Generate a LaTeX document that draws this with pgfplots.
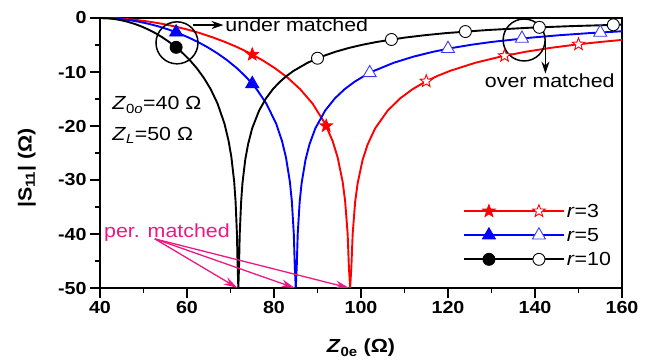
\documentclass[border=0pt]{standalone}
\usepackage{fontspec}
\setmainfont{Liberation Sans}[FakeStretch=1.13]
\usepackage{pgfplots}
\pgfplotsset{compat=1.18}
\usetikzlibrary{arrows.meta}
\definecolor{pm}{RGB}{235,25,130}
\definecolor{lblue}{RGB}{60,60,230}

\pgfdeclareplotmark{fstar}{%
  \pgfpathmoveto{\pgfpointpolar{90}{\pgfplotmarksize}}%
  \pgfpathlineto{\pgfpointpolar{126}{0.42\pgfplotmarksize}}%
  \pgfpathlineto{\pgfpointpolar{162}{\pgfplotmarksize}}%
  \pgfpathlineto{\pgfpointpolar{198}{0.42\pgfplotmarksize}}%
  \pgfpathlineto{\pgfpointpolar{234}{\pgfplotmarksize}}%
  \pgfpathlineto{\pgfpointpolar{270}{0.42\pgfplotmarksize}}%
  \pgfpathlineto{\pgfpointpolar{306}{\pgfplotmarksize}}%
  \pgfpathlineto{\pgfpointpolar{342}{0.42\pgfplotmarksize}}%
  \pgfpathlineto{\pgfpointpolar{18}{\pgfplotmarksize}}%
  \pgfpathlineto{\pgfpointpolar{54}{0.42\pgfplotmarksize}}%
  \pgfpathclose
  \pgfusepathqfillstroke
}

\begin{document}
\begin{tikzpicture}
\begin{axis}[
  scale only axis, width=522bp, height=270bp,
  xmin=40, xmax=160, ymin=-50, ymax=0,
  xtick={40,60,...,160}, ytick={-50,-40,...,0},
  minor x tick num=1, minor y tick num=1,
  xtick pos=left, ytick pos=left, tick align=outside,
  major tick length=10bp, minor tick length=5bp,
  axis line style={line width=1.6bp},
  every tick/.style={line width=1.6bp, black},
  /pgf/number format/assume math mode=true,
  tick label style={font=\fontsize{17.5}{20}\selectfont\bfseries},
  xlabel={\textbf{\textit{Z}\textsubscript{0e} (Ω)}},
  ylabel={\textbf{|S\textsubscript{11}| (Ω)}},
  label style={font=\fontsize{19}{22}\selectfont},
  x label style={at={(axis description cs:0.5,-0.222)}, anchor=center},
  y label style={at={(axis description cs:-0.14,0.445)}, anchor=center},
  legend style={at={(axis cs:123.4,-34.0)}, anchor=north west, draw=none, fill=none,
    inner sep=0pt, row sep=5.5bp, font=\fontsize{19}{21}\selectfont},
  legend cell align=left,
]
% ---- r = 3 (red)
\addplot[red, line width=1.9bp, legend image code/.code={
   \draw[red, line width=1.9bp] (0bp,0bp) -- (100bp,0bp);
   \draw[red, line width=0.9bp] plot[mark=fstar, mark size=6.5bp, mark options={fill=red}] coordinates {(25bp,0bp)};
   \draw[red, line width=0.9bp] plot[mark=fstar, mark size=6.5bp, mark options={fill=white}] coordinates {(75bp,0bp)};
 }] coordinates {
(40,0) (42.88,-0.04) (45.75,-0.17) (48.63,-0.39) (51.5,-0.70) (54.38,-1.09) (57.25,-1.57)
(60.13,-2.14) (63,-2.80) (65.88,-3.57) (68.75,-4.44) (71.63,-5.42) (74.5,-6.55) (77.38,-7.83)
(80.25,-9.31) (83.13,-11.06) (86,-13.17) (88.88,-15.86) (91.75,-19.58) (93.48,-22.80)
(94.63,-25.81) (95.78,-30.33) (96.35,-33.89) (96.93,-39.96) (97.21,-46.00) (97.5,-50)
(97.79,-46.04) (98.08,-40.04) (98.65,-34.07) (99.23,-30.59) (100.38,-26.24) (101.53,-23.41)
(103.25,-20.44) (106.13,-17.15) (109,-14.88) (111.88,-13.17) (114.75,-11.82) (117.63,-10.71)
(120.5,-9.78) (126.25,-8.30) (132,-7.17) (137.75,-6.27) (143.5,-5.54) (149.25,-4.94)
(155,-4.44) (160,-4.06)
};
\addlegendentry{\textit{r}=3}
% ---- r = 5 (blue)
\addplot[blue, line width=1.9bp, legend image code/.code={
   \draw[blue, line width=1.9bp] (0bp,0bp) -- (100bp,0bp);
   \draw[blue, line width=0.9bp] plot[mark=triangle*, mark size=7.5bp, mark options={fill=blue}] coordinates {(25bp,0bp)};
   \draw[lblue, line width=0.9bp] plot[mark=triangle*, mark size=7.5bp, mark options={fill=white}] coordinates {(75bp,0bp)};
 }] coordinates {
(40,0) (42.25,-0.04) (44.5,-0.17) (46.75,-0.39) (49,-0.70) (51.25,-1.09) (53.5,-1.57)
(55.75,-2.14) (58,-2.80) (60.25,-3.57) (62.5,-4.44) (64.75,-5.42) (67,-6.55) (69.25,-7.83)
(71.5,-9.31) (73.75,-11.06) (76,-13.17) (78.25,-15.86) (80.5,-19.58) (81.85,-22.80)
(82.75,-25.81) (83.65,-30.33) (84.1,-33.89) (84.55,-39.96) (84.78,-46.00) (85,-50)
(85.23,-46.04) (85.45,-40.04) (85.9,-34.07) (86.35,-30.59) (87.25,-26.24) (88.15,-23.41)
(89.5,-20.44) (91.75,-17.15) (94,-14.88) (96.25,-13.17) (98.5,-11.82) (100.75,-10.71)
(103,-9.78) (107.5,-8.30) (112,-7.17) (116.5,-6.27) (121,-5.54) (125.5,-4.94) (130,-4.44)
(139,-3.64) (145.75,-3.18) (152.5,-2.80) (160,-2.46)
};
\addlegendentry{\textit{r}=5}
% ---- r = 10 (black)
\addplot[black, line width=1.9bp, legend image code/.code={
   \draw[black, line width=1.9bp] (0bp,0bp) -- (100bp,0bp);
   \draw[black, line width=0.9bp] plot[mark=*, mark size=6bp, mark options={fill=black}] coordinates {(25bp,0bp)};
   \draw[black, line width=0.9bp] plot[mark=*, mark size=6bp, mark options={fill=white}] coordinates {(75bp,0bp)};
 }] coordinates {
(40,0) (41.59,-0.04) (43.18,-0.17) (44.77,-0.39) (46.36,-0.70) (47.95,-1.09) (49.54,-1.57)
(51.13,-2.14) (52.72,-2.80) (54.31,-3.57) (55.90,-4.44) (57.49,-5.42) (59.08,-6.55)
(60.67,-7.83) (62.26,-9.31) (63.85,-11.06) (65.44,-13.17) (67.03,-15.86) (68.62,-19.58)
(69.57,-22.80) (70.21,-25.81) (70.85,-30.33) (71.16,-33.89) (71.48,-39.96) (71.64,-46.00)
(71.80,-50) (71.96,-46.04) (72.12,-40.04) (72.44,-34.07) (72.75,-30.59) (73.39,-26.24)
(74.03,-23.41) (74.98,-20.44) (76.57,-17.15) (78.16,-14.88) (79.75,-13.17) (81.34,-11.82)
(82.93,-10.71) (84.52,-9.78) (87.70,-8.30) (90.88,-7.17) (94.06,-6.27) (97.24,-5.54)
(100.42,-4.94) (103.60,-4.44) (109.96,-3.64) (114.73,-3.18) (119.50,-2.80) (129.04,-2.23)
(138.58,-1.81) (148.12,-1.51) (160,-1.23)
};
\addlegendentry{\textit{r}=10}
% ---- markers
\addplot[red, only marks, mark=fstar, mark size=6.5bp, mark options={fill=red, line width=0.9bp}, forget plot]
 coordinates {(75,-6.76) (92,-19.98)};
\addplot[red, only marks, mark=fstar, mark size=6.5bp, mark options={fill=white, line width=0.9bp}, forget plot]
 coordinates {(115,-11.71) (133,-7.00) (150,-4.87)};
\addplot[blue, only marks, mark=triangle*, mark size=7.5bp, mark options={fill=blue, line width=0.9bp}, forget plot]
 coordinates {(57.5,-2.64) (75,-12.20)};
\addplot[lblue, only marks, mark=triangle*, mark size=7.5bp, mark options={fill=white, line width=0.9bp}, forget plot]
 coordinates {(102,-10.17) (120,-5.69) (137,-3.80) (155,-2.68)};
\addplot[black, only marks, mark=*, mark size=6bp, mark options={fill=black, line width=0.9bp}, forget plot]
 coordinates {(57.5,-5.43)};
\addplot[black, only marks, mark=*, mark size=6bp, mark options={fill=white, line width=0.9bp}, forget plot]
 coordinates {(90,-7.45) (107,-3.98) (124,-2.51) (141,-1.73) (158,-1.26)};
% ---- annotations
\draw[line width=1.5bp] (axis cs:57.7,-4.6) circle[radius=21bp];
\draw[line width=1.5bp] (axis cs:137.5,-4.07) circle[radius=21bp];
\draw[line width=1.4bp, -{Stealth[length=12bp,width=8bp]}] (axis cs:61.4,-1.3) -- (axis cs:68.4,-1.3);
\node[anchor=west, inner sep=0pt, font=\fontsize{19}{21}\selectfont] at (axis cs:68.8,-1.3) {under matched};
\draw[line width=1.4bp, -{Stealth[length=12bp,width=8bp]}] (axis cs:142.4,-4.07) -- (axis cs:142.4,-10.3);
\node[inner sep=0pt, font=\fontsize{19}{21}\selectfont] at (axis cs:143.4,-11.7) {over matched};
\node[anchor=base west, inner sep=0pt, font=\fontsize{19}{21}\selectfont] at (axis cs:42.8,-17.0) {\textit{Z}\textsubscript{0\textit{o}}=40 Ω};
\node[anchor=base west, inner sep=0pt, font=\fontsize{19}{21}\selectfont] at (axis cs:42.8,-22.6) {\textit{Z}\textsubscript{\textit{L}}=50 Ω};
\node[anchor=base west, inner sep=0pt, text=pm, font=\fontsize{19}{21}\selectfont] at (axis cs:40.9,-40.7) {per. matched};
\draw[pm, line width=1.3bp, -{Stealth[length=14bp,width=8bp]}] (axis cs:52.6,-40.9) -- (axis cs:71.6,-50);
\draw[pm, line width=1.3bp, -{Stealth[length=14bp,width=8bp]}] (axis cs:52.6,-40.9) -- (axis cs:84.8,-50);
\draw[pm, line width=1.3bp, -{Stealth[length=14bp,width=8bp]}] (axis cs:52.6,-40.9) -- (axis cs:97.3,-50);
\end{axis}
\pgfresetboundingbox
\path ([shift={(-100bp,-74bp)}]current axis.south west) rectangle ([shift={(29bp,18bp)}]current axis.north east);
\end{tikzpicture}
\end{document}
